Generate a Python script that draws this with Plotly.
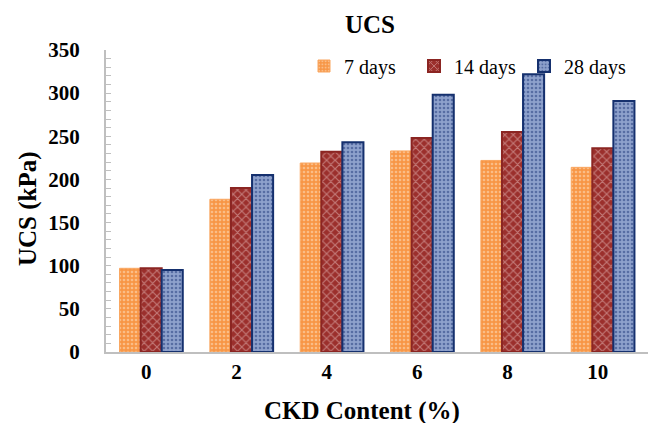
import plotly.graph_objects as go

categories = ["0", "2", "4", "6", "8", "10"]
series_names = ["7 days", "14 days", "28 days"]
ucs_7 = [97, 177, 219, 233, 222, 214]
ucs_14 = [97, 190, 232, 248, 255, 236]
ucs_28 = [95, 205, 243, 298, 322, 291]
y_ticks = [0, 50, 100, 150, 200, 250, 300, 350]

FONT = "Liberation Serif"
W, H = 652, 423
ML, MR, MT, MB = 106, 4, 50, 71
PW, PH = W - ML - MR, H - MT - MB

styles = [
    dict(color="#f79646", line="#f9a55e", shape=".", fg="#fde3c8", size=4, sol=0.35, lw=1),
    dict(color="#9b2f2c", line="#8b2522", shape="x", fg="#e9c4c2", size=6, sol=0.35, lw=2),
    dict(color="#8ea1cc", line="#15306e", shape=".", fg="#20397a", size=4, sol=0.35, lw=2),
]

fig = go.Figure()
for name, vals, st in zip(series_names, [ucs_7, ucs_14, ucs_28], styles):
    fig.add_trace(go.Bar(
        x=categories, y=vals, name=name,
        marker=dict(
            color=st["color"],
            line=dict(color=st["line"], width=st["lw"]),
            pattern=dict(shape=st["shape"], fgcolor=st["fg"], size=st["size"],
                         solidity=st["sol"], fillmode="overlay"),
        ),
    ))

def px_x(x):
    return (x - ML) / PW

def px_y(y):
    return (H - MB - y) / PH

fig.update_layout(
    width=W, height=H,
    margin=dict(l=ML, r=MR, t=MT, b=MB, autoexpand=False),
    paper_bgcolor="white", plot_bgcolor="white",
    barmode="group", bargap=0.3, bargroupgap=0,
    font=dict(family=FONT, color="#000000"),
    title=dict(text="UCS", x=px_x(370), xref="paper", xanchor="center",
               y=1 - 24 / H, yref="container", yanchor="middle",
               font=dict(size=25, family=FONT, weight="bold")),
    legend=dict(orientation="h", x=px_x(304), xanchor="left", y=px_y(66), yanchor="middle",
                font=dict(size=20, family=FONT), bgcolor="rgba(0,0,0,0)",
                itemwidth=30, traceorder="normal", tracegroupgap=0,
                entrywidth=65, entrywidthmode="pixels"),
    xaxis=dict(
        showline=True, linecolor="#bfbfbf", linewidth=2,
        ticks="", tickfont=dict(size=21, family=FONT, weight="bold"),
        ticklabelshift=-5,
    ),
    yaxis=dict(
        range=[0, 350], tickvals=y_ticks,
        showline=True, linecolor="#bfbfbf", linewidth=2,
        showgrid=False, zeroline=False,
        ticks="inside", ticklen=5, tickcolor="#bfbfbf", tickwidth=1,
        minor=dict(dtick=10, ticks="inside", ticklen=5, tickcolor="#bfbfbf", tickwidth=1),
        tickfont=dict(size=21, family=FONT, weight="bold"),
        ticklabelstandoff=20,
    ),
    annotations=[
        dict(text="CKD Content (%)", xref="paper", yref="paper",
             x=px_x(362), y=px_y(411), xanchor="center", yanchor="middle",
             showarrow=False, font=dict(size=25, family=FONT, weight="bold")),
        dict(text="UCS (kPa)", xref="paper", yref="paper", textangle=-90,
             x=px_x(28), y=px_y(209), xanchor="center", yanchor="middle",
             showarrow=False, font=dict(size=25, family=FONT, weight="bold")),
    ],
)

fig.write_html("out.html", config={"displayModeBar": False},
               post_script="document.body.style.margin='0';document.body.style.padding='0';")
